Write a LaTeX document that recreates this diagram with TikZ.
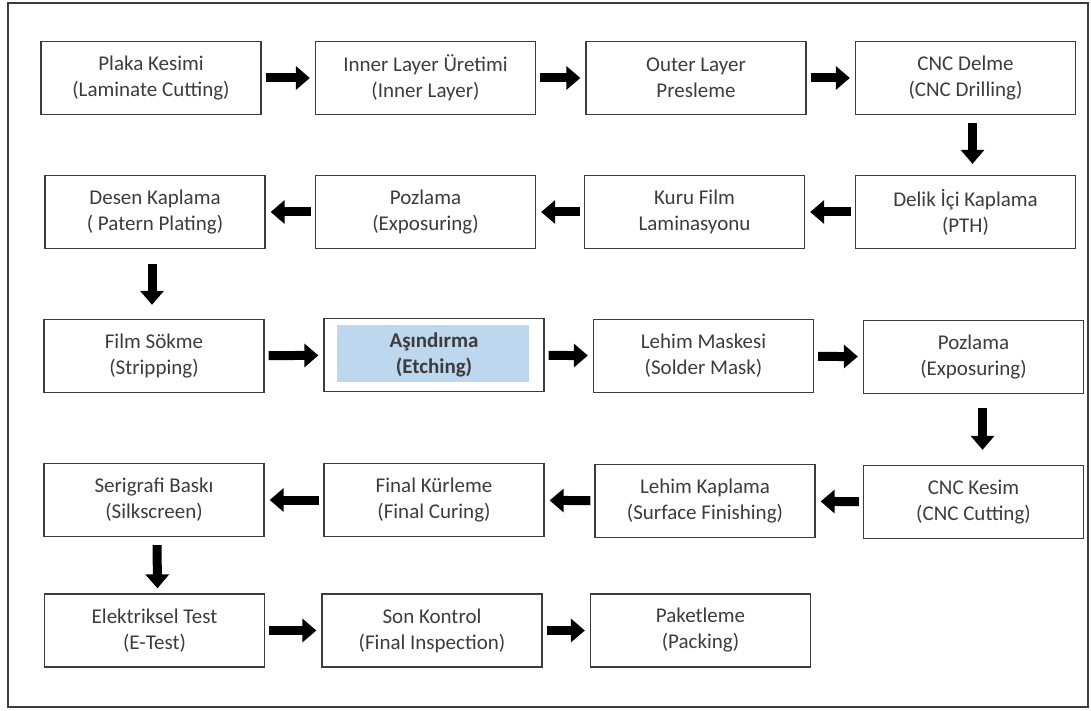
\documentclass[tikz,border=0pt]{standalone}
\usepackage{fontspec}
\setmainfont{Carlito}
\usetikzlibrary{arrows.meta}

\definecolor{etchblue}{RGB}{189,215,238}
\definecolor{inkgray}{RGB}{60,60,60}

\tikzset{
  stepbox/.style={draw=inkgray, line width=1.3pt, minimum width=220pt, minimum height=73pt,
    inner sep=0pt, align=center, text=inkgray, font=\fontsize{21}{26}\selectfont},
  etchbox/.style={stepbox, font=\fontsize{21}{26}\selectfont\bfseries,
    path picture={\fill[etchblue] ([xshift=13pt,yshift=-6pt]path picture bounding box.north west)
      rectangle ([xshift=-15pt,yshift=10pt]path picture bounding box.south east);}},
  flow/.style={line width=9pt, -{Triangle[length=14pt,width=23pt]}, shorten <=4pt, shorten >=5pt},
}

\begin{document}
\begin{tikzpicture}[x=1pt,y=-1pt]
	\useasboundingbox (0,0) rectangle (1091,711);
	\draw[inkgray, line width=1.2pt] (8,3) rectangle (1088,707);

	% row 1
	\node[stepbox] (plaka) at (151,78) {Plaka Kesimi\\(Laminate Cutting)};
	\node[stepbox] (inner) at (425.5,78) {Inner Layer Üretimi\\(Inner Layer)};
	\node[stepbox] (outer) at (696,78) {Outer Layer\\Presleme};
	\node[stepbox] (delme) at (965.5,78) {CNC Delme\\(CNC Drilling)};
	% row 2
	\node[stepbox] (desen) at (155,212) {Desen Kaplama\\( Patern Plating)};
	\node[stepbox] (pozlamaA) at (425.5,212) {Pozlama\\(Exposuring)};
	\node[stepbox] (kurufilm) at (694.5,212) {Kuru Film\\Laminasyonu};
	\node[stepbox] (delik) at (965.5,212) {Delik İçi Kaplama\\(PTH)};
	% row 3
	\node[stepbox] (sokme) at (154,356) {Film Sökme\\(Stripping)};
	\node[etchbox] (asindirma) at (434,355) {Aşındırma\\(Etching)};
	\node[stepbox] (maske) at (703.5,356) {Lehim Maskesi\\(Solder Mask)};
	\node[stepbox] (pozlamaB) at (973.5,357) {Pozlama\\(Exposuring)};
	% row 4
	\node[stepbox] (serigrafi) at (154,500) {Serigrafi Baskı\\(Silkscreen)};
	\node[stepbox] (kurleme) at (434,500) {Final Kürleme\\(Final Curing)};
	\node[stepbox] (kaplama) at (705,501) {Lehim Kaplama\\(Surface Finishing)};
	\node[stepbox] (kesim) at (973.5,502) {CNC Kesim\\(CNC Cutting)};
	% row 5
	\node[stepbox] (etest) at (154.5,630.5) {Elektriksel Test\\(E-Test)};
	\node[stepbox] (kontrol) at (432,630.5) {Son Kontrol\\(Final Inspection)};
	\node[stepbox] (paket) at (700.5,630.5) {Paketleme\\(Packing)};

	% arrows
	\draw[flow] (plaka) -- (inner);
	\draw[flow] (inner) -- (outer);
	\draw[flow] (outer) -- (delme);
	\draw[flow, shorten <=8pt, shorten >=11pt] ([xshift=7pt]delme.south) -- ([xshift=7pt]delik.north);
	\draw[flow] (delik) -- (kurufilm);
	\draw[flow] (kurufilm) -- (pozlamaA);
	\draw[flow] (pozlamaA) -- (desen);
	\draw[flow, shorten <=15pt, shorten >=14pt] ([xshift=-3pt]desen.south) -- ([xshift=-2pt]sokme.north);
	\draw[flow] (sokme) -- (asindirma);
	\draw[flow] (asindirma) -- (maske);
	\draw[flow] (maske) -- (pozlamaB);
	\draw[flow, shorten <=14pt, shorten >=15pt] ([xshift=9pt]pozlamaB.south) -- ([xshift=9pt]kesim.north);
	\draw[flow] (kesim) -- (kaplama);
	\draw[flow] (kaplama) -- (kurleme);
	\draw[flow] (kurleme) -- (serigrafi);
	\draw[flow, shorten <=8pt, shorten >=5pt] ([xshift=3pt]serigrafi.south) -- ([xshift=3pt]etest.north);
	\draw[flow] (etest) -- (kontrol);
	\draw[flow] (kontrol) -- (paket);
\end{tikzpicture}
\end{document}
